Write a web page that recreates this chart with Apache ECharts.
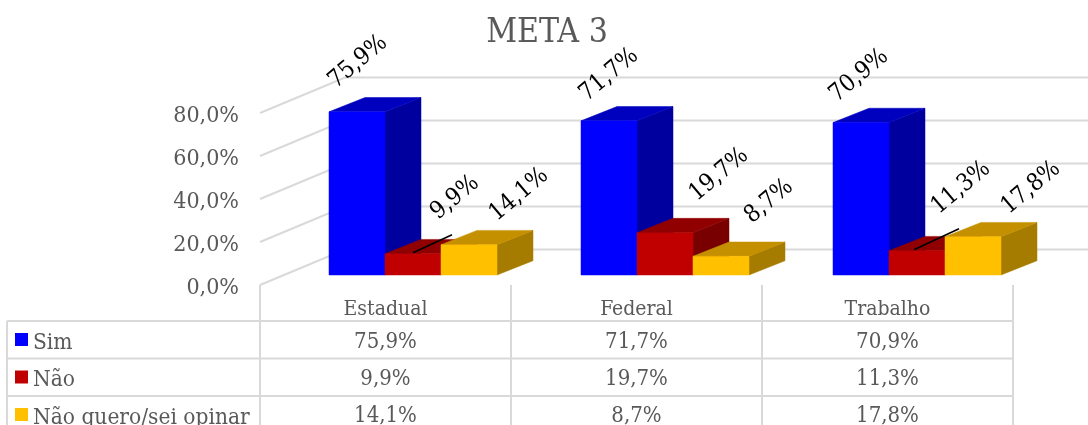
<!DOCTYPE html>
<html><head><meta charset="utf-8">
<script src="https://cdn.jsdelivr.net/npm/echarts@6/dist/echarts.min.js"></script>
<style>html,body{margin:0;padding:0;background:#fff}#c{width:1088px;height:425px}</style>
</head><body><div id="c"></div>
<script>
const categories = ['Estadual', 'Federal', 'Trabalho'];
const seriesNames = ['Sim', 'Não', 'Não quero/sei opinar'];
const sim = [75.9, 71.7, 70.9];
const nao = [9.9, 19.7, 11.3];
const opinar = [14.1, 8.7, 17.8];
const yTicks = [0, 20, 40, 60, 80];

const values = [sim, nao, opinar];
const pal = [
  {front:'#0000FF', top:'#0000BF', side:'#00009F'},
  {front:'#C00000', top:'#900000', side:'#780000'},
  {front:'#FFC000', top:'#C49000', side:'#A67C00'}
];
const labelOffsets = [
  [[1,-50],[0,-46],[-2,-47]],
  [[42,-56],[54,-58],[44,-63]],
  [[50,-50],[48,-55],[58,-49]]
];
const leaders = {'1,0':[[0,-1],[39,-19]], '1,2':[[-3,-1],[42,-22]]};
const serif = '"DejaVu Serif Condensed", "DejaVu Serif", serif';
const grey = '#595959', lineCol = '#D9D9D9';
const BW = 56, DX = 36, DY = 14.3, FX = 27.5, FY = 10, WX = 85, WY = 35.5;
const fmt = v => v.toFixed(1).replace('.', ',') + '%';
const rowY = [342, 379, 416.5];

function barItem(si) {
  return function (params, api) {
    const i = api.value(0), p = api.coord([i, api.value(1)]), b = api.coord([i, 0]);
    const x0 = p[0] + FX + i + (si - 1.5) * BW, x1 = x0 + BW;
    const yb = b[1] - FY, yt = p[1] - FY, c = pal[si];
    const poly = (pts, col) => ({type:'polygon', shape:{points:pts}, style:{fill:col, stroke:col, lineWidth:0.5}});
    return {type:'group', children:[
      poly([[x1,yb],[x1+DX,yb-DY],[x1+DX,yt-DY],[x1,yt]], c.side),
      poly([[x0,yt],[x1,yt],[x1+DX,yt-DY],[x0+DX,yt-DY]], c.top),
      poly([[x0,yb],[x1,yb],[x1,yt],[x0,yt]], c.front)
    ]};
  };
}
function labelItem(si) {
  return function (params, api) {
    const i = api.value(0), v = api.value(1), p = api.coord([i, v]);
    const cx = p[0] + FX + i + (si - 1) * BW, cy = p[1] - FY;
    const o = labelOffsets[si][i], kids = [];
    const l = leaders[si + ',' + i];
    if (l) kids.push({type:'line', shape:{x1:cx+l[0][0], y1:cy+l[0][1], x2:cx+l[1][0], y2:cy+l[1][1]}, style:{stroke:'#000', lineWidth:1.6}});
    kids.push({type:'text', x:cx+o[0], y:cy+o[1], rotation:40*Math.PI/180,
      style:{text:fmt(v), align:'center', verticalAlign:'middle', fill:'#000', font:'24px '+serif}});
    return {type:'group', children:kids};
  };
}
function cellItem(si) {
  return function (params, api) {
    const i = api.value(0), p = api.coord([i, 0]);
    return {type:'text', x:p[0], y:rowY[si], style:{text:fmt(api.value(1)), align:'center', verticalAlign:'middle', fill:grey, font:'22px '+serif}};
  };
}
function gridItem(params, api) {
  const p = api.coord([0, api.value(0)]), x = p[0] - api.size([1,0])[0]/2, y = p[1];
  return {type:'polyline', shape:{points:[[x,y],[x+WX,y-WY],[x+WX+800,y-WY]]}, style:{stroke:lineCol, lineWidth:2, fill:null}};
}
function tableItem(params, api) {
  const s = api.coord([0,0]), w = api.size([1,0])[0], left = s[0]-w/2, kids = [];
  const L = (x1,y1,x2,y2) => kids.push({type:'line', shape:{x1,y1,x2,y2}, style:{stroke:lineCol, lineWidth:2}});
  for (let k = 0; k <= categories.length; k++) L(left+k*w, s[1], left+k*w, 430);
  L(7, 321, 7, 430);
  [321, 358.5, 396].forEach(y => L(7, y, left+categories.length*w, y));
  return {type:'group', children:kids};
}
const pairs = a => a.map((v, i) => [i, v]);
const series = [
  {type:'custom', name:'_grid', renderItem:gridItem, data:yTicks.map(v=>[v]), encode:{y:0}, clip:false, silent:true, z:1},
  {type:'custom', name:'_table', renderItem:tableItem, data:[[0]], clip:false, silent:true, z:1}
];
values.forEach((a, si) => {
  series.push({type:'custom', name:seriesNames[si], renderItem:barItem(si), data:pairs(a), encode:{x:0,y:1}, clip:false, z:2+si, itemStyle:{color:pal[si].front}});
  series.push({type:'custom', name:'_lab'+si, renderItem:labelItem(si), data:pairs(a), encode:{x:0,y:1}, clip:false, z:10});
  series.push({type:'custom', name:'_cell'+si, renderItem:cellItem(si), data:pairs(a), encode:{x:0,y:1}, clip:false, z:10});
});
const chart = echarts.init(document.getElementById('c'), null, {renderer:'canvas'});
chart.setOption({
  animation:false, backgroundColor:'#fff',
  title:{text:'META 3', left:542, top:11, textAlign:'center', textStyle:{color:grey, fontFamily:serif, fontWeight:'normal', fontSize:33.5}},
  legend:{data:seriesNames, orient:'vertical', left:15, top:331.5, height:130, selectedMode:false, icon:'rect', itemWidth:13, itemHeight:13, itemGap:14.5,
    padding:0, formatter:n=>'{t|'+n+'}',
    textStyle:{rich:{t:{color:grey, fontFamily:serif, fontSize:22.5, padding:[7,0,0,0]}}}},
  grid:{left:260, right:75, top:113, bottom:140},
  xAxis:{type:'category', data:categories, axisLine:{show:false}, axisTick:{show:false}, splitLine:{show:false},
    axisLabel:{color:grey, fontFamily:serif, fontSize:21, margin:14}},
  yAxis:{type:'value', min:0, max:80, interval:20, axisLine:{show:false}, axisTick:{show:false}, splitLine:{show:false},
    axisLabel:{color:grey, fontFamily:serif, fontSize:23, margin:21, verticalAlign:'top', lineHeight:6, formatter:v=>fmt(v)}},
  series
});
</script></body></html>
